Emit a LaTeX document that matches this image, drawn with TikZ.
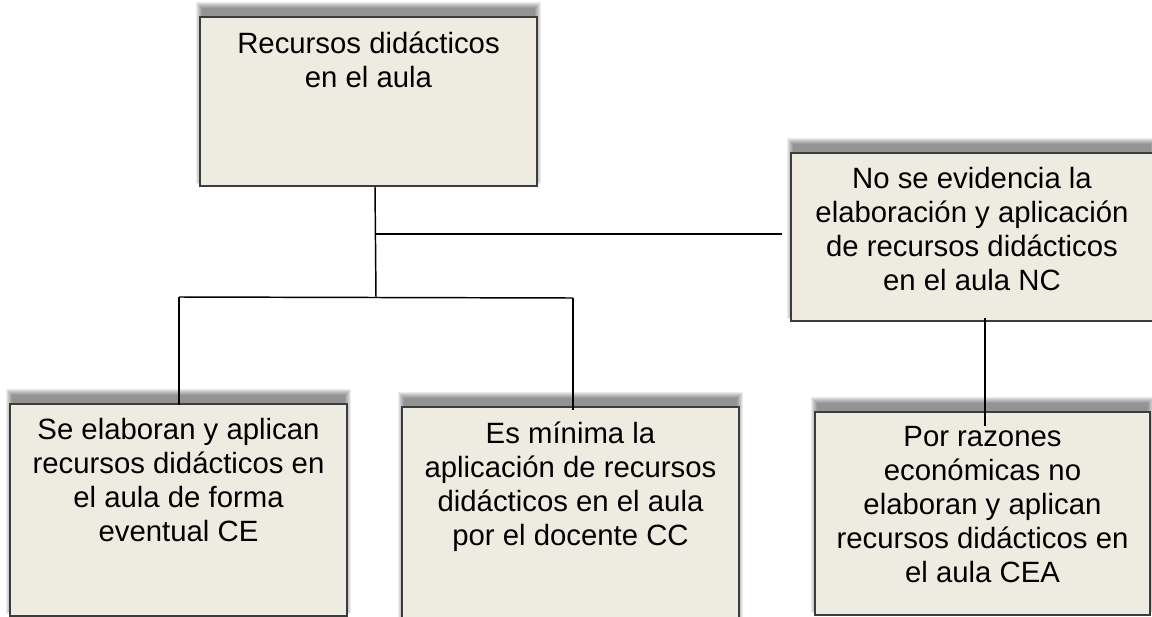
\documentclass[tikz,border=0pt]{standalone}
\usepackage{fontspec}
\setmainfont{Liberation Sans}
\newdimen\pxu \pxu=0.75pt
\definecolor{boxfill}{HTML}{EEECE1}
\definecolor{boxline}{HTML}{3C3C3C}
\newcommand\shadowfor[4]{%
  \foreach \k in {0,...,6}{%
    \fill[black,opacity=0.075] (#1+2-\k,#2-9-\k) rectangle (#3-2+\k,#4-8+\k);
  }}
\tikzset{
  card/.style={draw=boxline, line width=1.1pt, fill=boxfill, rectangle, inner sep=0pt},
  cardtext/.style={anchor=north, inner sep=0pt, align=center,
    font=\fontsize{22pt}{25.5pt}\selectfont},
  wire/.style={draw=black, line width=1.1pt}
}
\begin{document}
\begin{tikzpicture}[x=\pxu, y=-\pxu]
\useasboundingbox (0,0) rectangle (1152,617);
\clip (0,0) rectangle (1152,617);
\fill[white] (0,0) rectangle (1152,617);
% shadows
\shadowfor{200}{17}{537}{186}
\shadowfor{791}{153}{1153}{321}
\shadowfor{10}{404}{347}{616}
\shadowfor{402}{407}{739}{630}
\shadowfor{815}{412}{1150}{615}
% boxes
\node[card, minimum width=337\pxu, minimum height=169\pxu] (top) at (368.5,101.5) {};
\node[card, minimum width=362\pxu, minimum height=168\pxu] (nc) at (972,237) {};
\node[card, minimum width=337\pxu, minimum height=212\pxu] (ce) at (178.5,510) {};
\node[card, minimum width=337\pxu, minimum height=223\pxu] (cc) at (570.5,518.5) {};
\node[card, minimum width=335\pxu, minimum height=203\pxu] (cea) at (982.5,513.5) {};
% texts
\node[cardtext] (ttop) at ([yshift=-15\pxu]top.north) {Recursos didácticos\\en el aula};
\node[cardtext] (tnc) at ([yshift=-15\pxu]nc.north) {No se evidencia la\\elaboración y aplicación\\de recursos didácticos\\en el aula NC};
\node[cardtext] (tce) at ([yshift=-15\pxu]ce.north) {Se elaboran y aplican\\recursos didácticos en\\el aula de forma\\eventual CE};
\node[cardtext] (tcc) at ([yshift=-15\pxu]cc.north) {Es mínima la\\aplicación de recursos\\didácticos en el aula\\por el docente CC};
\node[cardtext] (tcea) at ([yshift=-15\pxu]cea.north) {Por razones\\económicas no\\elaboran y aplican\\recursos didácticos en\\el aula CEA};
% connectors
\coordinate (j1) at (375,234);
\coordinate (j2) at (376,298);
\coordinate (jl) at (179,297);
\coordinate (jr) at (573,298);
\draw[wire] (top.south -| j1) -- (j2);
\draw[wire] (j1) -- ([xshift=-8\pxu]nc.west |- j1);
\draw[wire] (jl) -- (jr);
\draw[wire] (jl) -- ([yshift=-2\pxu]ce.north -| jl);
\draw[wire] (jr) -- ([yshift=-4\pxu]cc.north -| jr);
\coordinate (jn) at (985,0);
\draw[wire] ([yshift=4\pxu]nc.south -| jn) -- ([yshift=-15\pxu]cea.north -| jn);
\end{tikzpicture}
\end{document}
